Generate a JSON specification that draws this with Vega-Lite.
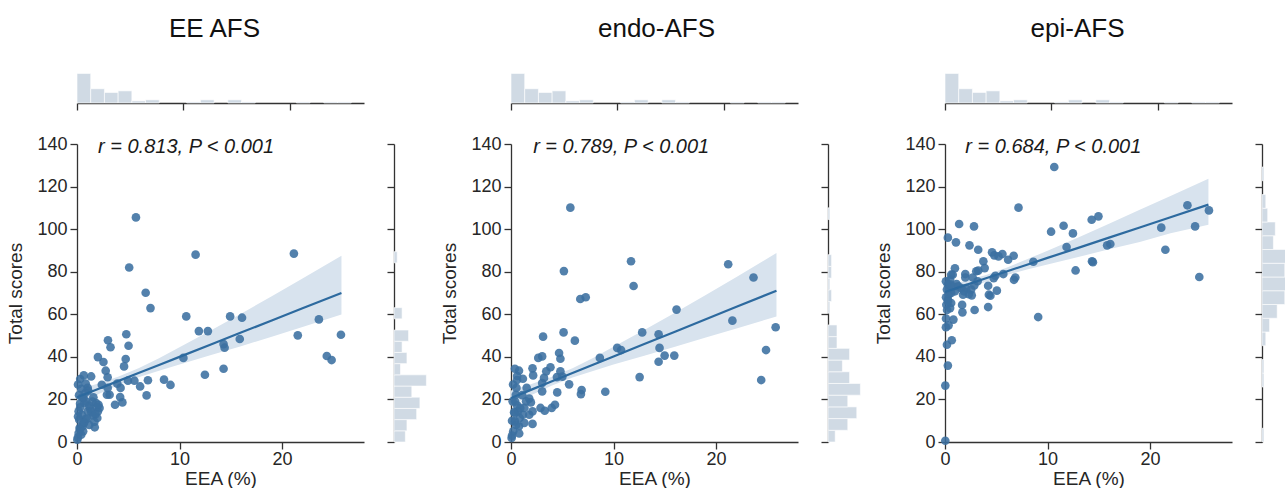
{
"$schema": "https://vega.github.io/schema/vega-lite/v6.json",
"padding": {"left": 6, "top": 16, "right": 0, "bottom": 0},
"config": {
  "font": "Liberation Sans",
  "view": {"stroke": null},
  "axis": {"domainColor": "#333333", "domainWidth": 1.3, "tickColor": "#333333", "tickWidth": 1.3, "tickSize": 7, "labelFontSize": 18, "labelColor": "#262626", "titleFontSize": 19, "titleFontWeight": "normal", "titleColor": "#262626", "grid": false, "labelPadding": 3, "labelFlush": false},
  "axisY": {"titlePadding": 11},
  "axisX": {"labelPadding": 1, "titlePadding": 1},
  "title": {"fontSize": 26, "fontWeight": "normal", "color": "#111111", "offset": 30}
},
"datasets": {
  "xhist": [
    {"x0": 0, "x1": 1.29, "count": 56}, {"x0": 1.29, "x1": 2.58, "count": 27}, {"x0": 2.58, "x1": 3.87, "count": 20}, {"x0": 3.87, "x1": 5.16, "count": 23},
    {"x0": 5.16, "x1": 6.45, "count": 4}, {"x0": 6.45, "x1": 7.74, "count": 6}, {"x0": 10.32, "x1": 11.61, "count": 2}, {"x0": 11.61, "x1": 12.9, "count": 6},
    {"x0": 14.19, "x1": 15.48, "count": 6}, {"x0": 15.48, "x1": 16.77, "count": 2}, {"x0": 20.64, "x1": 21.93, "count": 2}, {"x0": 23.22, "x1": 24.51, "count": 2}, {"x0": 24.51, "x1": 25.8, "count": 2}
  ],
  "yh1": [
    {"y0": 0, "y1": 5.26, "count": 7}, {"y0": 5.26, "y1": 10.52, "count": 8}, {"y0": 10.52, "y1": 15.78, "count": 14}, {"y0": 15.78, "y1": 21.04, "count": 16},
    {"y0": 21.04, "y1": 26.3, "count": 11}, {"y0": 26.3, "y1": 31.56, "count": 20}, {"y0": 31.56, "y1": 36.82, "count": 4}, {"y0": 36.82, "y1": 42.08, "count": 8},
    {"y0": 42.08, "y1": 47.34, "count": 5}, {"y0": 47.34, "y1": 52.6, "count": 9}, {"y0": 57.86, "y1": 63.12, "count": 5}, {"y0": 84.16, "y1": 89.42, "count": 2}
  ],
  "yh2": [
    {"y0": 0, "y1": 5.5, "count": 4}, {"y0": 5.5, "y1": 11, "count": 11}, {"y0": 11, "y1": 16.5, "count": 16}, {"y0": 16.5, "y1": 22, "count": 11},
    {"y0": 22, "y1": 27.5, "count": 18}, {"y0": 27.5, "y1": 33, "count": 12}, {"y0": 33, "y1": 38.5, "count": 8}, {"y0": 38.5, "y1": 44, "count": 12},
    {"y0": 44, "y1": 49.5, "count": 5}, {"y0": 49.5, "y1": 55, "count": 5}, {"y0": 60.5, "y1": 66, "count": 1}, {"y0": 66, "y1": 71.5, "count": 2},
    {"y0": 71.5, "y1": 77, "count": 1}, {"y0": 77, "y1": 82.5, "count": 2}, {"y0": 82.5, "y1": 88, "count": 2}, {"y0": 104.5, "y1": 110, "count": 1}
  ],
  "yh3": [
    {"y0": 0, "y1": 6.46, "count": 1}, {"y0": 25.84, "y1": 32.3, "count": 1}, {"y0": 32.3, "y1": 38.76, "count": 1}, {"y0": 45.22, "y1": 51.68, "count": 2},
    {"y0": 51.68, "y1": 58.14, "count": 4}, {"y0": 58.14, "y1": 64.6, "count": 8}, {"y0": 64.6, "y1": 71.06, "count": 12}, {"y0": 71.06, "y1": 77.52, "count": 17},
    {"y0": 77.52, "y1": 83.98, "count": 12}, {"y0": 83.98, "y1": 90.44, "count": 14}, {"y0": 90.44, "y1": 96.9, "count": 6}, {"y0": 96.9, "y1": 103.36, "count": 7},
    {"y0": 103.36, "y1": 109.82, "count": 3}, {"y0": 109.82, "y1": 116.28, "count": 2}, {"y0": 122.74, "y1": 129.2, "count": 1}
  ],
  "fit1": [
    {"x": 0, "y": 21.0, "lo": 17.5, "hi": 24.5}, {"x": 2, "y": 24.8, "lo": 22.3, "hi": 27.4}, {"x": 4, "y": 28.6, "lo": 26.7, "hi": 30.7}, {"x": 6, "y": 32.4, "lo": 30.4, "hi": 34.7},
    {"x": 8, "y": 36.2, "lo": 33.5, "hi": 39.4}, {"x": 10, "y": 40.0, "lo": 36.4, "hi": 44.5}, {"x": 13, "y": 45.7, "lo": 40.7, "hi": 52.3}, {"x": 16, "y": 51.4, "lo": 45.0, "hi": 60.3},
    {"x": 19, "y": 57.1, "lo": 49.5, "hi": 68.5}, {"x": 22, "y": 62.8, "lo": 54.0, "hi": 76.8}, {"x": 25.8, "y": 70.0, "lo": 59.9, "hi": 87.5}
  ],
  "fit2": [
    {"x": 0, "y": 20.7, "lo": 17.2, "hi": 24.2}, {"x": 2, "y": 24.6, "lo": 22.1, "hi": 27.2}, {"x": 4, "y": 28.5, "lo": 26.6, "hi": 30.6}, {"x": 6, "y": 32.4, "lo": 30.3, "hi": 34.7},
    {"x": 8, "y": 36.3, "lo": 33.4, "hi": 39.5}, {"x": 10, "y": 40.2, "lo": 36.4, "hi": 44.7}, {"x": 13, "y": 46.0, "lo": 40.5, "hi": 52.6}, {"x": 16, "y": 51.8, "lo": 44.7, "hi": 60.7},
    {"x": 19, "y": 57.7, "lo": 49.1, "hi": 69.1}, {"x": 22, "y": 63.5, "lo": 53.3, "hi": 77.5}, {"x": 25.9, "y": 71.1, "lo": 59.0, "hi": 88.8}
  ],
  "fit3": [
    {"x": 0, "y": 70.5, "lo": 67.7, "hi": 73.3}, {"x": 2, "y": 73.7, "lo": 71.7, "hi": 75.8}, {"x": 4, "y": 76.9, "lo": 75.3, "hi": 78.5}, {"x": 6, "y": 80.1, "lo": 78.4, "hi": 81.9},
    {"x": 8, "y": 83.3, "lo": 81.0, "hi": 85.8}, {"x": 10, "y": 86.5, "lo": 83.4, "hi": 89.9}, {"x": 13, "y": 91.2, "lo": 86.9, "hi": 96.1}, {"x": 16, "y": 96.0, "lo": 90.5, "hi": 102.5},
    {"x": 19, "y": 100.8, "lo": 94.0, "hi": 109.1}, {"x": 22, "y": 105.6, "lo": 98.1, "hi": 115.6}, {"x": 25.7, "y": 111.5, "lo": 102.1, "hi": 123.7}
  ],
  "ann1": [{"x": 2.05, "y": 138.6, "label": "r = 0.813, P < 0.001"}],
  "ann2": [{"x": 2.16, "y": 138.6, "label": "r = 0.789, P < 0.001"}],
  "ann3": [{"x": 1.98, "y": 138.6, "label": "r = 0.684, P < 0.001"}],
  "pts1": [
    {"x": 5.75, "y": 105.5}, {"x": 5.09, "y": 82.0}, {"x": 11.57, "y": 88.0}, {"x": 21.16, "y": 88.5}, {"x": 6.7, "y": 70.1}, {"x": 7.17, "y": 62.9}, {"x": 10.66, "y": 59.0}, {"x": 14.94, "y": 59.0},
    {"x": 16.1, "y": 58.4}, {"x": 11.89, "y": 52.1}, {"x": 12.77, "y": 52.1}, {"x": 21.54, "y": 50.1}, {"x": 25.75, "y": 50.4}, {"x": 23.6, "y": 57.6}, {"x": 15.88, "y": 48.4}, {"x": 14.3, "y": 46.0},
    {"x": 14.4, "y": 44.3}, {"x": 10.38, "y": 39.5}, {"x": 24.37, "y": 40.4}, {"x": 24.84, "y": 38.5}, {"x": 14.3, "y": 34.4}, {"x": 12.48, "y": 31.6}, {"x": 8.49, "y": 29.3}, {"x": 9.12, "y": 26.8},
    {"x": 6.92, "y": 29.0}, {"x": 6.79, "y": 21.9}, {"x": 6.16, "y": 26.1}, {"x": 4.81, "y": 50.6}, {"x": 5.03, "y": 45.2}, {"x": 4.75, "y": 39.0}, {"x": 4.59, "y": 35.5}, {"x": 3.02, "y": 47.8},
    {"x": 3.27, "y": 44.5}, {"x": 2.04, "y": 39.9}, {"x": 2.58, "y": 37.6}, {"x": 2.8, "y": 33.5}, {"x": 2.99, "y": 30.4}, {"x": 4.97, "y": 28.8}, {"x": 5.6, "y": 28.8}, {"x": 3.93, "y": 27.4},
    {"x": 4.25, "y": 25.4}, {"x": 2.42, "y": 26.9}, {"x": 2.99, "y": 25.4}, {"x": 3.18, "y": 22.2}, {"x": 2.92, "y": 22.2}, {"x": 4.21, "y": 21.1}, {"x": 4.43, "y": 18.6}, {"x": 3.71, "y": 17.5},
    {"x": 1.73, "y": 6.9}, {"x": 1.38, "y": 30.8}, {"x": 0.66, "y": 31.3}, {"x": 0.31, "y": 29.6}, {"x": 0.85, "y": 27.4}, {"x": 1.04, "y": 25.4}, {"x": 1.1, "y": 24.1}, {"x": 1.6, "y": 21.0},
    {"x": 1.86, "y": 18.3}, {"x": 1.92, "y": 16.3}, {"x": 2.04, "y": 14.4}, {"x": 1.98, "y": 11.3}, {"x": 1.57, "y": 12.5}, {"x": 1.26, "y": 15.7}, {"x": 0.72, "y": 18.3}, {"x": 0.63, "y": 20.7},
    {"x": 0.31, "y": 16.3}, {"x": 0.47, "y": 12.8}, {"x": 0.63, "y": 8.9}, {"x": 0.25, "y": 6.6}, {"x": 0.16, "y": 4.2}, {"x": 0.09, "y": 2.2}, {"x": 0.22, "y": 10.5}, {"x": 0.85, "y": 10.8},
    {"x": 1.04, "y": 14.4}, {"x": 0.03, "y": 1.1}, {"x": 0.41, "y": 3.4}, {"x": 0.53, "y": 7.4}, {"x": 0.16, "y": 14.4}, {"x": 2.2, "y": 16.0}, {"x": 0.1, "y": 12.0}, {"x": 0.3, "y": 18.0},
    {"x": 0.5, "y": 21.0}, {"x": 0.8, "y": 23.0}, {"x": 0.4, "y": 25.0}, {"x": 0.1, "y": 27.0}, {"x": 0.9, "y": 19.0}, {"x": 1.2, "y": 17.0}, {"x": 1.4, "y": 14.0}, {"x": 1.0, "y": 11.0},
    {"x": 0.7, "y": 9.0}, {"x": 0.3, "y": 6.0}, {"x": 0.6, "y": 5.0}, {"x": 1.2, "y": 8.0}, {"x": 0.2, "y": 22.0}, {"x": 1.5, "y": 19.0}, {"x": 1.8, "y": 13.0}, {"x": 2.1, "y": 17.5}, {"x": 1.7, "y": 9.5}
  ],
  "pts2": [
    {"x": 5.79, "y": 110.1}, {"x": 5.16, "y": 80.3}, {"x": 11.71, "y": 84.9}, {"x": 11.96, "y": 73.3}, {"x": 21.19, "y": 83.5}, {"x": 23.66, "y": 77.3}, {"x": 6.76, "y": 67.2}, {"x": 7.29, "y": 68.0},
    {"x": 16.15, "y": 62.2}, {"x": 21.6, "y": 57.0}, {"x": 25.82, "y": 53.9}, {"x": 12.8, "y": 51.5}, {"x": 14.4, "y": 50.6}, {"x": 14.49, "y": 44.2}, {"x": 10.36, "y": 44.2}, {"x": 10.74, "y": 43.2},
    {"x": 24.88, "y": 43.2}, {"x": 14.99, "y": 40.6}, {"x": 15.93, "y": 40.6}, {"x": 14.4, "y": 37.7}, {"x": 8.67, "y": 39.5}, {"x": 12.55, "y": 30.5}, {"x": 24.41, "y": 29.1}, {"x": 9.2, "y": 23.6},
    {"x": 6.89, "y": 24.4}, {"x": 6.82, "y": 22.5}, {"x": 5.67, "y": 27.1}, {"x": 5.13, "y": 51.5}, {"x": 6.23, "y": 47.6}, {"x": 3.13, "y": 49.5}, {"x": 3.04, "y": 40.2}, {"x": 2.66, "y": 39.5},
    {"x": 4.69, "y": 41.8}, {"x": 4.82, "y": 39.1}, {"x": 3.85, "y": 35.1}, {"x": 3.44, "y": 33.2}, {"x": 3.22, "y": 30.1}, {"x": 3.04, "y": 27.7}, {"x": 4.48, "y": 30.5}, {"x": 4.82, "y": 33.2},
    {"x": 5.01, "y": 30.7}, {"x": 2.1, "y": 34.6}, {"x": 2.16, "y": 31.3}, {"x": 3.04, "y": 23.8}, {"x": 4.51, "y": 23.3}, {"x": 2.88, "y": 16.0}, {"x": 3.29, "y": 14.7}, {"x": 3.97, "y": 16.0},
    {"x": 4.29, "y": 17.5}, {"x": 2.1, "y": 8.5}, {"x": 1.16, "y": 29.7}, {"x": 1.53, "y": 25.4}, {"x": 0.38, "y": 34.4}, {"x": 0.78, "y": 33.5}, {"x": 0.53, "y": 25.4}, {"x": 0.59, "y": 29.1},
    {"x": 1.78, "y": 20.4}, {"x": 1.94, "y": 18.6}, {"x": 1.47, "y": 19.1}, {"x": 2.1, "y": 14.4}, {"x": 1.78, "y": 12.8}, {"x": 0.59, "y": 17.2}, {"x": 0.69, "y": 14.4}, {"x": 0.85, "y": 11.3},
    {"x": 0.78, "y": 7.4}, {"x": 0.38, "y": 9.7}, {"x": 0.22, "y": 5.0}, {"x": 0.06, "y": 1.9}, {"x": 1.16, "y": 12.8}, {"x": 0.38, "y": 13.6}, {"x": 1.31, "y": 16.0}, {"x": 0.16, "y": 19.1},
    {"x": 0.47, "y": 22.2}, {"x": 0.1, "y": 10.0}, {"x": 0.3, "y": 14.0}, {"x": 0.5, "y": 8.0}, {"x": 0.9, "y": 16.0}, {"x": 1.1, "y": 22.0}, {"x": 0.2, "y": 27.0}, {"x": 0.6, "y": 31.0},
    {"x": 0.4, "y": 19.0}, {"x": 1.3, "y": 9.0}, {"x": 0.8, "y": 4.0}, {"x": 0.1, "y": 3.0}
  ],
  "pts3": [
    {"x": 10.66, "y": 129.2}, {"x": 7.17, "y": 110.1}, {"x": 23.65, "y": 111.2}, {"x": 25.75, "y": 108.8}, {"x": 14.31, "y": 104.4}, {"x": 14.97, "y": 106.0}, {"x": 11.57, "y": 101.6}, {"x": 10.35, "y": 98.8},
    {"x": 12.48, "y": 98.0}, {"x": 21.1, "y": 100.7}, {"x": 24.4, "y": 101.3}, {"x": 11.86, "y": 91.6}, {"x": 15.82, "y": 92.4}, {"x": 16.13, "y": 93.0}, {"x": 21.5, "y": 90.3}, {"x": 8.62, "y": 84.7},
    {"x": 14.34, "y": 84.9}, {"x": 14.43, "y": 84.5}, {"x": 12.74, "y": 80.6}, {"x": 24.81, "y": 77.5}, {"x": 9.09, "y": 58.7}, {"x": 1.38, "y": 102.4}, {"x": 2.83, "y": 101.3}, {"x": 0.28, "y": 96.0},
    {"x": 1.07, "y": 93.8}, {"x": 2.39, "y": 92.4}, {"x": 3.24, "y": 90.3}, {"x": 4.59, "y": 89.1}, {"x": 4.81, "y": 87.7}, {"x": 5.22, "y": 87.2}, {"x": 5.6, "y": 88.3}, {"x": 6.16, "y": 85.6},
    {"x": 6.7, "y": 87.5}, {"x": 3.74, "y": 84.9}, {"x": 3.87, "y": 81.7}, {"x": 3.05, "y": 80.2}, {"x": 3.24, "y": 80.5}, {"x": 0.97, "y": 81.6}, {"x": 0.75, "y": 78.6}, {"x": 0.6, "y": 78.6},
    {"x": 1.98, "y": 78.9}, {"x": 1.98, "y": 77.3}, {"x": 2.7, "y": 77.3}, {"x": 5.69, "y": 78.9}, {"x": 4.91, "y": 78.1}, {"x": 4.75, "y": 77.0}, {"x": 6.86, "y": 77.3}, {"x": 6.73, "y": 76.2},
    {"x": 3.18, "y": 75.5}, {"x": 4.21, "y": 73.4}, {"x": 2.86, "y": 73.6}, {"x": 1.13, "y": 74.2}, {"x": 1.29, "y": 73.1}, {"x": 1.6, "y": 72.3}, {"x": 1.86, "y": 70.8}, {"x": 2.08, "y": 72.3},
    {"x": 2.33, "y": 69.5}, {"x": 2.55, "y": 71.6}, {"x": 1.76, "y": 69.2}, {"x": 2.61, "y": 68.9}, {"x": 4.28, "y": 69.2}, {"x": 4.43, "y": 68.7}, {"x": 5.06, "y": 71.1}, {"x": 0.28, "y": 73.9},
    {"x": 0.19, "y": 71.6}, {"x": 0.35, "y": 69.2}, {"x": 0.28, "y": 66.9}, {"x": 0.6, "y": 65.3}, {"x": 0.5, "y": 62.9}, {"x": 0.13, "y": 64.5}, {"x": 1.67, "y": 64.4}, {"x": 1.7, "y": 60.9},
    {"x": 2.89, "y": 62.0}, {"x": 4.21, "y": 63.4}, {"x": 0.82, "y": 57.5}, {"x": 0.35, "y": 54.8}, {"x": 0.09, "y": 53.9}, {"x": 0.66, "y": 47.8}, {"x": 0.19, "y": 45.7}, {"x": 0.28, "y": 35.9},
    {"x": 0.03, "y": 26.5}, {"x": 0.03, "y": 0.6}, {"x": 0.09, "y": 75.5}, {"x": 0.5, "y": 76.2}, {"x": 0.97, "y": 70.8}, {"x": 0.1, "y": 68.0}, {"x": 0.2, "y": 62.0}, {"x": 0.4, "y": 72.0},
    {"x": 0.6, "y": 70.0}, {"x": 0.3, "y": 66.0}, {"x": 0.8, "y": 73.0}, {"x": 0.1, "y": 58.0}, {"x": 0.5, "y": 74.0}
  ]
},
"spacing": 12,
"hconcat": [
  {
    "spacing": 24,
    "vconcat": [
      {
        "width": 287, "height": 31,
        "title": {"text": "EE AFS", "dx": -6},
        "data": {"name": "xhist"},
        "mark": {"type": "bar", "color": "#d0dae4", "stroke": "white", "strokeWidth": 0.6},
        "encoding": {
          "x": {"field": "x0", "type": "quantitative", "scale": {"domain": [0, 27]}, "axis": {"values": [0, 10, 20], "labels": false, "title": null}},
          "x2": {"field": "x1"},
          "y": {"field": "count", "type": "quantitative", "scale": {"domain": [0, 58.8]}, "axis": null},
          "y2": {"datum": 0}
        }
      },
      {
        "spacing": 22,
        "hconcat": [
          {
            "width": 287, "height": 298,
            "layer": [
              {"data": {"name": "fit1"}, "mark": {"type": "area", "color": "#d8e3ee"},
               "encoding": {"x": {"field": "x", "type": "quantitative", "scale": {"domain": [0, 27]}, "axis": {"values": [0, 10, 20], "title": "EEA (%)"}},
                            "y": {"field": "lo", "type": "quantitative", "scale": {"domain": [0, 140]}, "axis": {"values": [0, 20, 40, 60, 80, 100, 120, 140], "title": "Total scores"}},
                            "y2": {"field": "hi"}}},
              {"data": {"name": "pts1"}, "mark": {"type": "circle", "color": "#3b6fa0", "opacity": 0.88, "size": 75},
               "encoding": {"x": {"field": "x", "type": "quantitative"}, "y": {"field": "y", "type": "quantitative"}}},
              {"data": {"name": "fit1"}, "mark": {"type": "line", "color": "#2d6a9f", "strokeWidth": 2.2},
               "encoding": {"x": {"field": "x", "type": "quantitative"}, "y": {"field": "y", "type": "quantitative"}}},
              {"data": {"name": "ann1"}, "mark": {"type": "text", "align": "left", "baseline": "middle", "fontStyle": "italic", "fontSize": 20, "color": "#1a1a1a"},
               "encoding": {"x": {"field": "x", "type": "quantitative"}, "y": {"field": "y", "type": "quantitative"}, "text": {"field": "label"}}}
            ]
          },
          {
            "width": 34, "height": 298,
            "data": {"name": "yh1"},
            "mark": {"type": "bar", "color": "#d0dae4", "stroke": "white", "strokeWidth": 0.6},
            "encoding": {
              "y": {"field": "y0", "type": "quantitative", "scale": {"domain": [0, 140]}, "axis": {"values": [0, 20, 40, 60, 80, 100, 120, 140], "labels": false, "title": null}},
              "y2": {"field": "y1"},
              "x": {"field": "count", "type": "quantitative", "scale": {"domain": [0, 21]}, "axis": null},
              "x2": {"datum": 0}
            }
          }
        ]
      }
    ]
  },
  {
    "spacing": 24,
    "vconcat": [
      {
        "width": 287, "height": 31,
        "title": {"text": "endo-AFS", "dx": 2},
        "data": {"name": "xhist"},
        "mark": {"type": "bar", "color": "#d0dae4", "stroke": "white", "strokeWidth": 0.6},
        "encoding": {
          "x": {"field": "x0", "type": "quantitative", "scale": {"domain": [0, 27]}, "axis": {"values": [0, 10, 20], "labels": false, "title": null}},
          "x2": {"field": "x1"},
          "y": {"field": "count", "type": "quantitative", "scale": {"domain": [0, 58.8]}, "axis": null},
          "y2": {"datum": 0}
        }
      },
      {
        "spacing": 22,
        "hconcat": [
          {
            "width": 287, "height": 298,
            "layer": [
              {"data": {"name": "fit2"}, "mark": {"type": "area", "color": "#d8e3ee"},
               "encoding": {"x": {"field": "x", "type": "quantitative", "scale": {"domain": [0, 27]}, "axis": {"values": [0, 10, 20], "title": "EEA (%)"}},
                            "y": {"field": "lo", "type": "quantitative", "scale": {"domain": [0, 140]}, "axis": {"values": [0, 20, 40, 60, 80, 100, 120, 140], "title": "Total scores"}},
                            "y2": {"field": "hi"}}},
              {"data": {"name": "pts2"}, "mark": {"type": "circle", "color": "#3b6fa0", "opacity": 0.88, "size": 75},
               "encoding": {"x": {"field": "x", "type": "quantitative"}, "y": {"field": "y", "type": "quantitative"}}},
              {"data": {"name": "fit2"}, "mark": {"type": "line", "color": "#2d6a9f", "strokeWidth": 2.2},
               "encoding": {"x": {"field": "x", "type": "quantitative"}, "y": {"field": "y", "type": "quantitative"}}},
              {"data": {"name": "ann2"}, "mark": {"type": "text", "align": "left", "baseline": "middle", "fontStyle": "italic", "fontSize": 20, "color": "#1a1a1a"},
               "encoding": {"x": {"field": "x", "type": "quantitative"}, "y": {"field": "y", "type": "quantitative"}, "text": {"field": "label"}}}
            ]
          },
          {
            "width": 34, "height": 298,
            "data": {"name": "yh2"},
            "mark": {"type": "bar", "color": "#d0dae4", "stroke": "white", "strokeWidth": 0.6},
            "encoding": {
              "y": {"field": "y0", "type": "quantitative", "scale": {"domain": [0, 140]}, "axis": {"values": [0, 20, 40, 60, 80, 100, 120, 140], "labels": false, "title": null}},
              "y2": {"field": "y1"},
              "x": {"field": "count", "type": "quantitative", "scale": {"domain": [0, 18.9]}, "axis": null},
              "x2": {"datum": 0}
            }
          }
        ]
      }
    ]
  },
  {
    "spacing": 24,
    "vconcat": [
      {
        "width": 287, "height": 31,
        "title": {"text": "epi-AFS", "dx": -11},
        "data": {"name": "xhist"},
        "mark": {"type": "bar", "color": "#d0dae4", "stroke": "white", "strokeWidth": 0.6},
        "encoding": {
          "x": {"field": "x0", "type": "quantitative", "scale": {"domain": [0, 27]}, "axis": {"values": [0, 10, 20], "labels": false, "title": null}},
          "x2": {"field": "x1"},
          "y": {"field": "count", "type": "quantitative", "scale": {"domain": [0, 58.8]}, "axis": null},
          "y2": {"datum": 0}
        }
      },
      {
        "spacing": 22,
        "hconcat": [
          {
            "width": 287, "height": 298,
            "layer": [
              {"data": {"name": "fit3"}, "mark": {"type": "area", "color": "#d8e3ee"},
               "encoding": {"x": {"field": "x", "type": "quantitative", "scale": {"domain": [0, 27]}, "axis": {"values": [0, 10, 20], "title": "EEA (%)"}},
                            "y": {"field": "lo", "type": "quantitative", "scale": {"domain": [0, 140]}, "axis": {"values": [0, 20, 40, 60, 80, 100, 120, 140], "title": "Total scores"}},
                            "y2": {"field": "hi"}}},
              {"data": {"name": "pts3"}, "mark": {"type": "circle", "color": "#3b6fa0", "opacity": 0.88, "size": 75},
               "encoding": {"x": {"field": "x", "type": "quantitative"}, "y": {"field": "y", "type": "quantitative"}}},
              {"data": {"name": "fit3"}, "mark": {"type": "line", "color": "#2d6a9f", "strokeWidth": 2.2},
               "encoding": {"x": {"field": "x", "type": "quantitative"}, "y": {"field": "y", "type": "quantitative"}}},
              {"data": {"name": "ann3"}, "mark": {"type": "text", "align": "left", "baseline": "middle", "fontStyle": "italic", "fontSize": 20, "color": "#1a1a1a"},
               "encoding": {"x": {"field": "x", "type": "quantitative"}, "y": {"field": "y", "type": "quantitative"}, "text": {"field": "label"}}}
            ]
          },
          {
            "width": 23, "height": 298,
            "data": {"name": "yh3"},
            "mark": {"type": "bar", "color": "#d0dae4", "stroke": "white", "strokeWidth": 0.6, "clip": true},
            "encoding": {
              "y": {"field": "y0", "type": "quantitative", "scale": {"domain": [0, 140]}, "axis": {"values": [0, 20, 40, 60, 80, 100, 120, 140], "labels": false, "title": null}},
              "y2": {"field": "y1"},
              "x": {"field": "count", "type": "quantitative", "scale": {"domain": [0, 12.1]}, "axis": null},
              "x2": {"datum": 0}
            }
          }
        ]
      }
    ]
  }
]
}
